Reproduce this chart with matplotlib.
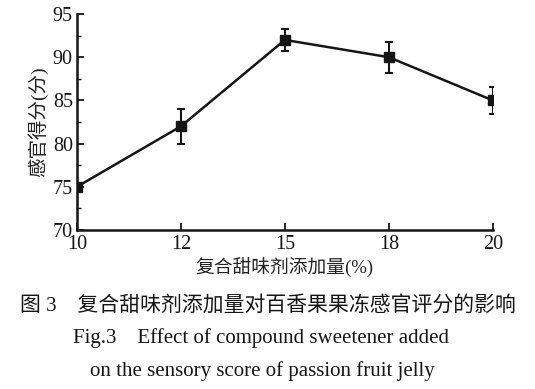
import matplotlib
matplotlib.use("Agg")
import matplotlib.pyplot as plt
from matplotlib.ticker import MultipleLocator

plt.rcParams['font.family'] = ['Liberation Serif', 'Noto Sans CJK SC', 'DejaVu Sans']

# data
dose_labels = ['10', '12', '15', '18', '20']
score = [75, 82, 92, 90, 85]
score_err = [0.3, 2.0, 1.3, 1.8, 1.6]

fig = plt.figure(figsize=(5.35, 3.89), dpi=100)
ax = fig.add_axes([0.144, 0.409, 0.777, 0.555])

x = list(range(len(dose_labels)))
ax.errorbar(x, score, yerr=score_err, color='#151515', lw=1.8, marker='s',
            markersize=6.5, capsize=3, elinewidth=1.5, capthick=1.5)

ax.set_xlim(0, len(dose_labels) - 1)
ax.set_ylim(70, 95)
ax.set_xticks(x)
ax.set_xticklabels(dose_labels)
ax.yaxis.set_major_locator(MultipleLocator(5))
ax.yaxis.set_minor_locator(MultipleLocator(2.5))
ax.tick_params(direction='in', labelsize=14.5, width=1.3, length=5, colors='#151515')
ax.tick_params(which='minor', direction='in', length=3, width=1.0)
ax.tick_params(axis='x', pad=4)
ax.tick_params(axis='y', pad=3)

for s in ['top', 'right']:
    ax.spines[s].set_visible(False)
for s in ['left', 'bottom']:
    ax.spines[s].set_linewidth(1.8)
    ax.spines[s].set_color('#151515')

ax.set_ylabel('感官得分(分)', fontsize=14, labelpad=3, color='#222222')
ax.set_xlabel('复合甜味剂添加量(%)', fontsize=13.5, labelpad=2, color='#222222')

fig.text(0.5, 0.215, '图 3\u3000复合甜味剂添加量对百香果果冻感官评分的影响',
         ha='center', va='center', fontsize=15, color='#151515')
fig.text(0.488, 0.13, 'Fig.3\u2003Effect of compound sweetener added',
         ha='center', va='center', fontsize=15, color='#151515')
fig.text(0.49, 0.045, 'on the sensory score of passion fruit jelly',
         ha='center', va='center', fontsize=15, color='#151515')

fig.savefig('out.png', dpi=100)
